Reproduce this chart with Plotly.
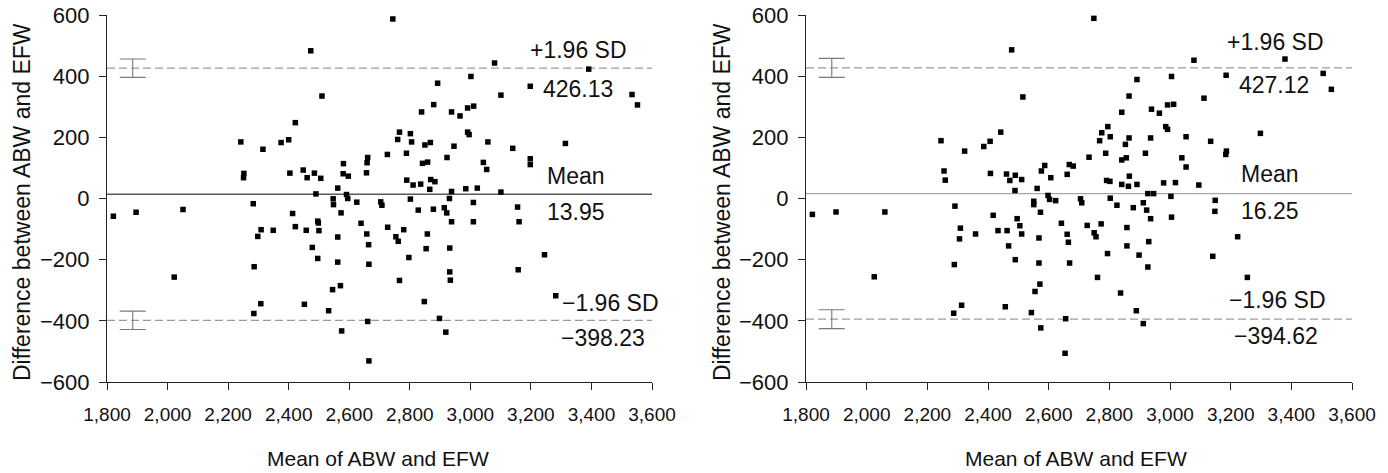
import plotly.graph_objects as go

# ---------------- data ----------------
left_x = [1821, 1896, 2051, 2022, 2242, 2252, 2251, 2283, 2315, 2375, 2400, 2422, 2404, 2448, 2461, 2485,
          2506, 2473, 2510, 2490, 2413, 2496, 2498, 2547, 2548, 2562, 2580, 2581, 2573, 2591, 2595, 2597,
          2422, 2458, 2500, 2309, 2349, 2298, 2562, 2478, 2496, 2286, 2562, 2545, 2571, 2308, 2285, 2452,
          2532, 2575, 2744, 2726, 2766, 2760, 2661, 2659, 2657, 3080, 2892, 3002, 3101, 3198, 2879, 2839,
          2938, 2966, 2991, 3011, 2802, 2806, 2789, 2850, 2868, 2991, 2996, 2946, 2923, 3058, 3140, 2842,
          2859, 3043, 3054, 3198, 3198, 2790, 2811, 2836, 2869, 2883, 2866, 2938, 2985, 3023, 3101, 2802,
          2931, 3391, 3534, 3552, 3314, 2625, 2704, 2708, 2828, 2878, 2914, 2922, 3010, 2938, 3010, 3156,
          3161, 2639, 2658, 2727, 2754, 2780, 2858, 2762, 2854, 2932, 2797, 3245, 3158, 2932, 2934, 2766,
          3282, 2848, 2898, 2919, 2664, 2665, 2661, 2665]
left_y = [-58, -45, -36, -257, 185, 82, 68, -17, 161, 183, 192, 248, 83, 93, 68, 83,
          66, 483, 335, 15, -49, -74, -80, -1, -20, 34, 81, 114, -47, 13, 0, 73,
          -92, -104, -105, -102, -104, -124, -126, -160, -196, -223, -208, -298, -285, -344, -376, -346,
          -367, -433, 587, 144, 217, 193, 134, 117, 84, 443, 377, 399, 338, 367, 307, 283,
          283, 270, 296, 302, 212, 185, 148, 175, 183, 217, 209, 171, 134, 185, 164, 115,
          119, 118, 95, 130, 111, 60, 44, 47, 62, 55, 30, 23, 32, 34, 21, -2,
          0, 423, 340, 306, 180, -12, -11, -22, -38, -35, -30, -47, -13, -76, -76, -28,
          -76, -81, -116, -94, -125, -102, -116, -140, -164, -162, -193, -184, -233, -240, -267, -268,
          -318, -337, -392, -437, -151, -215, -402, -531]

right_x = [1821, 1899, 2060, 2025, 2245, 2255, 2259, 2291, 2323, 2386, 2407, 2442, 2408, 2461, 2472, 2490,
           2511, 2489, 2478, 2515, 2417, 2496, 2505, 2551, 2551, 2562, 2309, 2359, 2433, 2463, 2511, 2306,
           2468, 2490, 2289, 2555, 2313, 2287, 2457, 2543, 2749, 3079, 3379, 2891, 3005, 3185, 3505, 3532,
           2865, 3112, 2841, 2939, 2965, 2992, 3012, 2795, 2775, 2803, 2768, 2865, 2853, 2986, 2992, 2936,
           3053, 3134, 3298, 2733, 2788, 2841, 2856, 2919, 3039, 3053, 3186, 3184, 2587, 2576, 2668, 2681,
           2661, 2607, 2791, 2802, 2841, 2863, 2891, 2866, 2979, 3018, 3095, 2927, 2946, 2598, 2603, 2623,
           2573, 2705, 2709, 2803, 2825, 2879, 2912, 2923, 3003, 3005, 2936, 3149, 3148, 2642, 2661, 2727,
           2773, 2750, 2756, 2858, 3223, 2568, 2665, 2930, 2858, 2794, 2898, 2927, 3141, 3255, 2568, 2669,
           2761, 2571, 2837, 2889, 2912, 2656, 2574, 2654]
right_y = [-52, -44, -44, -256, 189, 90, 60, -25, 155, 170, 187, 217, 82, 80, 59, 76,
           62, 26, 486, 332, -55, -66, -89, -9, -20, 33, -97, -116, -105, -105, -116, -132,
           -155, -200, -216, -304, -349, -375, -354, -373, 589, 452, 456, 389, 399, 403, 409, 357,
           335, 328, 282, 292, 279, 306, 308, 235, 215, 202, 189, 198, 177, 235, 226, 198,
           202, 187, 213, 135, 148, 126, 133, 148, 133, 103, 155, 144, 108, 90, 111, 106,
           79, 68, 59, 56, 46, 40, 46, 73, 51, 52, 44, 16, 16, 10, -3, -7,
           -45, -1, -14, 1, -22, -30, -14, -38, 7, -61, -66, -6, -42, -81, -117, -88,
           -83, -112, -125, -95, -125, -129, -143, -141, -155, -180, -185, -224, -189, -258, -211, -211,
           -258, -280, -309, -367, -409, -393, -423, -506]

means = [13.95, 16.25]
upper_limits = [426.13, 427.12]
lower_limits = [-398.23, -394.62]
ci_half = [30, 31]
x_range = [1800, 3600]
y_range = [-600, 600]
x_ticks = [1800, 2000, 2200, 2400, 2600, 2800, 3000, 3200, 3400, 3600]
y_ticks = [-600, -400, -200, 0, 200, 400, 600]
mean_colors = ["#5a5a5a", "#a8a8a8"]

W, H = 1388, 473
FONT = "Liberation Sans, Arial, Helvetica, sans-serif"


def fx(px):
    return px / W


def fy(py):
    return 1 - py / H


fig = go.Figure()

panels = [(left_x, left_y), (right_x, right_y)]
for i, (px, py) in enumerate(panels):
    xa = "x" if i == 0 else "x2"
    ya = "y" if i == 0 else "y2"
    for val in (upper_limits[i], lower_limits[i]):
        fig.add_trace(go.Scatter(x=x_range, y=[val, val], mode="lines", xaxis=xa, yaxis=ya,
                                 line=dict(color="#9a9a9a", width=1.3, dash="8px,4px"),
                                 hoverinfo="skip", showlegend=False))
    fig.add_trace(go.Scatter(x=x_range, y=[means[i], means[i]], mode="lines", xaxis=xa, yaxis=ya,
                             line=dict(color=mean_colors[i], width=1.3),
                             hoverinfo="skip", showlegend=False))
    fig.add_trace(go.Scatter(x=[1885, 1885], y=[upper_limits[i], lower_limits[i]], mode="markers",
                             xaxis=xa, yaxis=ya, marker=dict(size=1, color="rgba(0,0,0,0)"),
                             error_y=dict(type="data", array=[ci_half[i], ci_half[i]], visible=True,
                                          color="#7a7a7a", thickness=1.1, width=13),
                             hoverinfo="skip", showlegend=False))
    fig.add_trace(go.Scatter(x=px, y=py, mode="markers", xaxis=xa, yaxis=ya,
                             marker=dict(symbol="square", size=5.5, color="#000000"),
                             showlegend=False))

axis_common = dict(showgrid=False, zeroline=False, showline=True, linecolor="#222", linewidth=1.2,
                   ticks="outside", ticklen=7, tickwidth=1.1, tickcolor="#222", automargin=False)

xdoms = [(fx(107), fx(652)), (fx(806), fx(1352))]
ydom = (fy(382), fy(15))

fig.update_layout(
    width=W, height=H,
    margin=dict(l=0, r=0, t=0, b=0, pad=0, autoexpand=False),
    plot_bgcolor="white", paper_bgcolor="white",
    font=dict(family=FONT, color="#111"),
    xaxis=dict(domain=xdoms[0], range=x_range, tickvals=x_ticks, tickformat=",d",
               tickfont=dict(size=19, family=FONT, color="#111"), anchor="y", ticklabelstandoff=8, **axis_common),
    yaxis=dict(domain=ydom, range=y_range, tickvals=y_ticks,
               tickfont=dict(size=22, family=FONT, color="#111"), anchor="x", ticklabelstandoff=5, **axis_common),
    xaxis2=dict(domain=xdoms[1], range=x_range, tickvals=x_ticks, tickformat=",d",
                tickfont=dict(size=19, family=FONT, color="#111"), anchor="y2", ticklabelstandoff=8, **axis_common),
    yaxis2=dict(domain=ydom, range=y_range, tickvals=y_ticks,
                tickfont=dict(size=22, family=FONT, color="#111"), anchor="x2", ticklabelstandoff=5, **axis_common),
)


def ann(text, px, py, size=23, angle=0):
    fig.add_annotation(text=text, x=fx(px), y=fy(py), xref="paper", yref="paper",
                       showarrow=False, xanchor="center", yanchor="middle", textangle=angle,
                       font=dict(size=size, family=FONT, color="#111"))


ann("Difference between ABW and EFW", 22, 202, size=23, angle=-90)
ann("Difference between ABW and EFW", 722, 202, size=23, angle=-90)
ann("Mean of ABW and EFW", 378, 458, size=21)
ann("Mean of ABW and EFW", 1076, 458, size=21)


def fmt(v):
    s = f"{abs(v):.2f}"
    return ("\u2212" + s) if v < 0 else s


ann("+1.96 SD", 578, 50)
ann(fmt(upper_limits[0]), 578, 89)
ann("Mean", 576, 176)
ann(fmt(means[0]), 576, 212)
ann("\u22121.96 SD", 610, 303)
ann(fmt(lower_limits[0]), 603, 338)

ann("+1.96 SD", 1275, 42)
ann(fmt(upper_limits[1]), 1274, 85)
ann("Mean", 1270, 174)
ann(fmt(means[1]), 1270, 211)
ann("\u22121.96 SD", 1277, 300)
ann(fmt(lower_limits[1]), 1276, 336)

fig.write_html("out.html", config={"displayModeBar": False},
               post_script="document.body.style.margin='0px';")
